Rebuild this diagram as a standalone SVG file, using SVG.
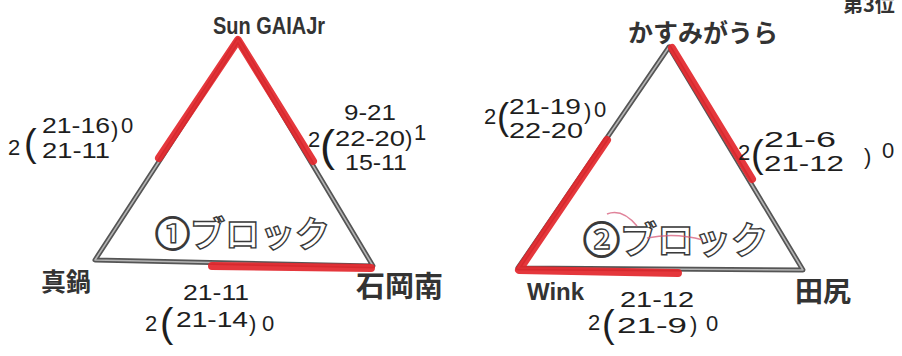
<svg xmlns="http://www.w3.org/2000/svg" width="902" height="356" viewBox="0 0 902 356">
<style>
.side{fill:none;stroke:#555;stroke-width:5;stroke-linecap:round;stroke-linejoin:round}
.sideIn{fill:none;stroke:#b5b5b5;stroke-width:1.6;stroke-linecap:round;stroke-linejoin:round}
.win{fill:none;stroke:#e3262b;stroke-width:8;stroke-linecap:round;stroke-linejoin:round;opacity:0.92}
.team{font-family:"Liberation Sans",Arial,"Noto Sans CJK JP",sans-serif;font-weight:bold;fill:#333}
.teamj{font-family:"Noto Sans CJK JP",sans-serif;font-weight:bold;fill:#333}
.block{font-family:"Noto Sans CJK JP",sans-serif;font-weight:bold;fill:#fff;stroke:#3a3a3a;stroke-width:1.4}
.hw{font-family:"Liberation Sans",Arial,sans-serif;fill:#1e1e1e;font-size:22px}
.par{font-family:"Liberation Sans",Arial,sans-serif;fill:#1e1e1e}
</style>
<rect width="902" height="356" fill="#fff"/>

<g id="connectors">
  <path class="side" d="M238,40 L95,260 L373,266 Z"/>
  <path class="sideIn" d="M238,40 L95,260 L373,266 Z"/>
  <path class="win" d="M159,158 L238,40 L313,161"/>
  <path class="win" d="M212,266 L371,268"/>
  <path class="side" d="M669,47 L518,268 L803,270 Z"/>
  <path class="sideIn" d="M669,47 L518,268 L803,270 Z"/>
  <path class="win" d="M672,48 L752,179"/>
  <path class="win" d="M607,140 L519,270 L678,273"/>
</g>

<g id="node-sungaia"><text class="team" x="213" y="34" font-size="23" textLength="112" lengthAdjust="spacingAndGlyphs">Sun GAIAJr</text></g>
<g id="node-manabe"><text class="teamj" x="41" y="291" font-size="25">真鍋</text></g>
<g id="node-ishiokaminami"><text class="teamj" x="356" y="297" font-size="29">石岡南</text></g>
<g id="node-kasumigaura"><text class="teamj" x="628" y="42" font-size="25">かすみがうら</text></g>
<g id="node-wink"><text class="team" x="527" y="300" font-size="24">Wink</text></g>
<g id="node-tajiri"><text class="teamj" x="795" y="302" font-size="28">田尻</text></g>
<g id="rank3"><text class="teamj" x="843" y="12" font-size="20">第3位</text></g>

<g id="block1-label"><text class="block" x="155" y="247" font-size="35">①ブロック</text></g>
<g id="block2-label"><text class="block" x="583" y="254" font-size="37">②ブロック</text>
  <path d="M607,214 Q622,208 637,226 M647,238 Q675,232 703,240" fill="none" stroke="#d65a78" stroke-width="1.5" opacity="0.75"/>
</g>

<g id="score-sun-manabe">
  <text class="hw" x="8" y="155" font-size="25">2</text>
  <text class="par" x="24" y="156" font-size="38">(</text>
  <text class="hw" x="42" y="133" textLength="68" lengthAdjust="spacingAndGlyphs">21-16</text>
  <text class="hw" x="42" y="158" textLength="68" lengthAdjust="spacingAndGlyphs">21-11</text>
  <text class="hw" x="111" y="137">)</text>
  <text class="hw" x="121" y="133" font-size="19">0</text>
</g>
<g id="score-sun-ishioka">
  <text class="hw" x="344" y="120" textLength="52" lengthAdjust="spacingAndGlyphs">9-21</text>
  <text class="hw" x="308" y="147" font-size="24">2</text>
  <text class="par" x="320" y="161" font-size="45">(</text>
  <text class="hw" x="335" y="146" textLength="70" lengthAdjust="spacingAndGlyphs">22-20</text>
  <text class="hw" x="405" y="146" font-size="24">)</text>
  <text class="hw" x="414" y="140" font-size="19">1</text>
  <text class="hw" x="345" y="170" textLength="62" lengthAdjust="spacingAndGlyphs">15-11</text>
</g>
<g id="score-manabe-ishioka">
  <text class="hw" x="145" y="331" font-size="24">2</text>
  <text class="par" x="160" y="337" font-size="40">(</text>
  <text class="hw" x="183" y="300" textLength="66" lengthAdjust="spacingAndGlyphs">21-11</text>
  <text class="hw" x="176" y="327" textLength="72" lengthAdjust="spacingAndGlyphs">21-14</text>
  <text class="hw" x="249" y="331" font-size="26">)</text>
  <text class="hw" x="262" y="331">0</text>
</g>

<g id="score-kasumi-wink">
  <text class="hw" x="484" y="124" font-size="23">2</text>
  <text class="par" x="497" y="129" font-size="36">(</text>
  <text class="hw" x="509" y="114" textLength="72" lengthAdjust="spacingAndGlyphs">21-19</text>
  <text class="hw" x="509" y="138" textLength="74" lengthAdjust="spacingAndGlyphs">22-20</text>
  <text class="hw" x="584" y="119">)</text>
  <text class="hw" x="594" y="117" font-size="19">0</text>
</g>
<g id="score-kasumi-tajiri">
  <text class="hw" x="738" y="160" font-size="24">2</text>
  <text class="par" x="751" y="167" font-size="38">(</text>
  <text class="hw" x="764" y="147" textLength="72" lengthAdjust="spacingAndGlyphs">21-6</text>
  <text class="hw" x="764" y="171" textLength="80" lengthAdjust="spacingAndGlyphs">21-12</text>
  <text class="hw" x="864" y="164" font-size="24">)</text>
  <text class="hw" x="882" y="158">0</text>
</g>
<g id="score-wink-tajiri">
  <text class="hw" x="588" y="330" font-size="24">2</text>
  <text class="par" x="602" y="337" font-size="38">(</text>
  <text class="hw" x="620" y="307" textLength="74" lengthAdjust="spacingAndGlyphs">21-12</text>
  <text class="hw" x="617" y="333" textLength="70" lengthAdjust="spacingAndGlyphs">21-9</text>
  <text class="hw" x="690" y="332" font-size="26">)</text>
  <text class="hw" x="706" y="331">0</text>
</g>
</svg>
